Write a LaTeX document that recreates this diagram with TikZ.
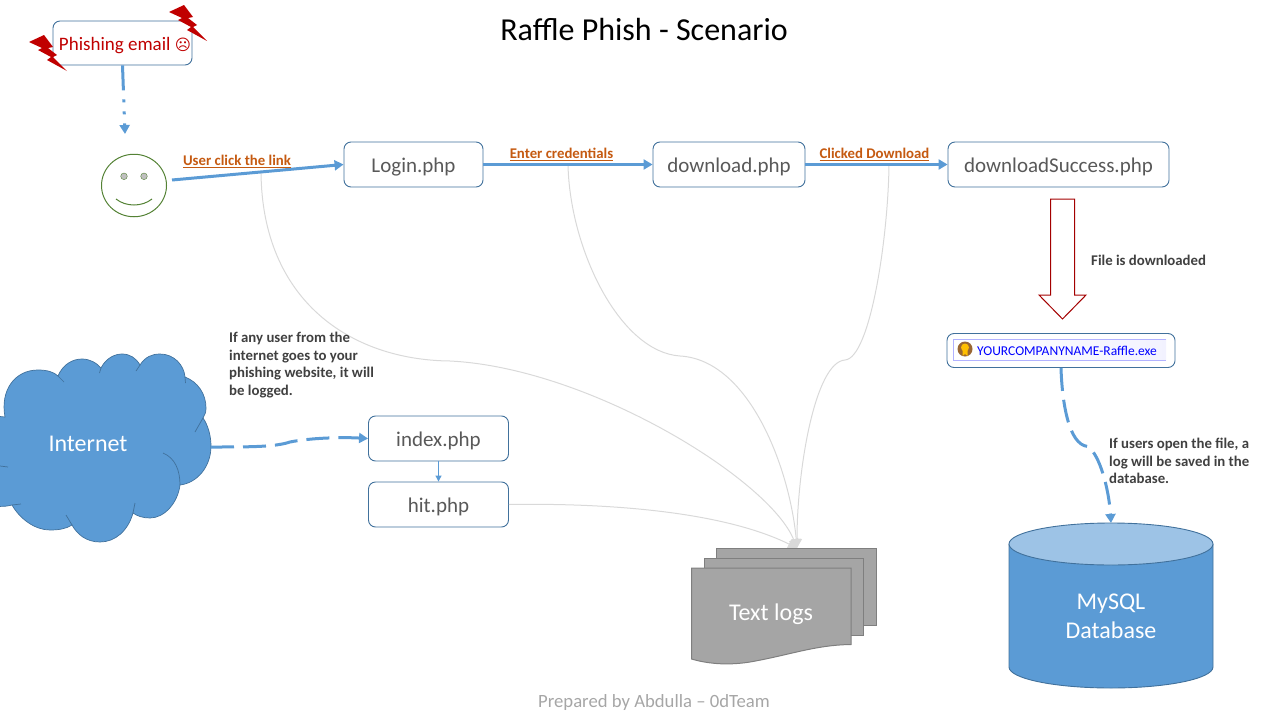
\documentclass[tikz,border=0pt]{standalone}
\usepackage{fontspec}
\usetikzlibrary{arrows.meta,shapes.geometric}
\setmainfont{Carlito}
\newfontfamily\symfont{DejaVu Sans}
\definecolor{boxline}{HTML}{41719C}
\definecolor{flowblue}{HTML}{5B9BD5}
\definecolor{dbtop}{HTML}{9DC3E6}
\definecolor{pagegray}{HTML}{595959}
\definecolor{labelorange}{HTML}{C55A11}
\definecolor{notegray}{HTML}{404040}
\definecolor{logfill}{HTML}{A5A5A5}
\definecolor{logline}{HTML}{7F7F7F}
\definecolor{bolt}{HTML}{C00000}
\definecolor{curvegray}{HTML}{D9D9D9}
\definecolor{facegreen}{HTML}{548235}
\tikzset{
  page/.style={draw=boxline, line width=.9pt, rounded corners=7pt, fill=white, text=pagegray, minimum height=45pt, inner xsep=0pt, text height=15pt, text depth=0pt, font=\fontsize{21}{25}\selectfont},
  flow/.style={->, flowblue, line width=3pt},
  loglink/.style={->, curvegray, line width=1pt},
  linktext/.style={text=labelorange, font=\fontsize{14.8}{18}\bfseries\selectfont},
  note/.style={text=notegray, align=left, anchor=west, inner sep=0pt, font=\fontsize{14.8}{17.8}\bfseries\selectfont},
  sheet/.style={fill=logfill, draw=logline, line width=1pt},
  onshape/.style={text=white, align=center, font=\fontsize{24}{29}\selectfont},
}
\begin{document}
\begin{tikzpicture}[x=1pt, y=-1pt, >={Triangle[length=9pt,width=10pt]}]
  \useasboundingbox (0,0) rectangle (1280,720);
  \node (title) at (644,30) {\fontsize{32}{38}\selectfont Raffle Phish - Scenario};
  \node[text=black!35] (footer) at (654,703) {\fontsize{18.7}{22}\selectfont Prepared by Abdulla -- 0dTeam};

  % logging curves
  \coordinate (logsin) at (797,548);
  \coordinate (clicklog) at (261,172);
  \coordinate (credlog) at (568,165);
  \coordinate (dllog) at (889,165);
  \draw[loglink] (clicklog) .. controls (262,300) and (350,360) .. (450,361) .. controls (590,368) and (770,480) .. (logsin);
  \draw[loglink] (credlog) .. controls (570,250) and (620,352) .. (680,356) .. controls (750,360) and (790,470) .. (logsin);
  \draw[loglink] (dllog) .. controls (888,240) and (870,358) .. (845,360) .. controls (815,362) and (797,470) .. (logsin);

  % email and user
  \node[page, minimum width=139pt, minimum height=44pt, text=bolt, font=\fontsize{19}{22}\selectfont] (email) at (122.5,43) {\hspace*{5pt}Phishing email {\symfont\fontsize{15.5}{18}\selectfont ☹}};
  \foreach \bx/\by in {0/0,140/-30}{
    \fill[bolt, shift={(\bx,\by)}] (29,42) -- (44,35) -- (53,47) -- (48,48) -- (57,55) -- (53,57) -- (67,71) -- (47,60) -- (51,57) -- (38,50) -- (42,48) -- cycle;
  }
  \node[ellipse, draw=facegreen, line width=1pt, minimum width=65pt, minimum height=62.5pt, inner sep=0pt] (user) at (134,185.5) {};
  \foreach \ex in {124,144}{
    \fill[black!25, draw=facegreen] (\ex,176.3) circle (3.3pt);
  }
  \draw[facegreen, line width=1pt] (116,199) .. controls (126,207) and (142,207) .. (152,199);

  % pages
  \node[page, minimum width=139pt] (login) at (413.5,164.5) {Login.php};
  \node[page, minimum width=152pt] (download) at (729,164.5) {download.php};
  \node[page, minimum width=221pt] (success) at (1058.5,164.5) {downloadSuccess.php};
  \node[page, minimum width=140pt] (index) at (438.5,438.5) {index.php};
  \node[page, minimum width=140pt] (hit) at (438.5,504.5) {hit.php};

  \coordinate (userin) at (125,134);
  \coordinate (userout) at (172,180);
  \draw[flow, dash pattern=on 25pt off 9pt on 3pt off 9pt on 3pt off 9pt on 20pt] (email.south) -- (userin);
  \draw[flow] (userout) -- (login.west);
  \draw[flow] (login.east) -- (download.west);
  \draw[flow] (download.east) -- (success.west);
  \node[linktext] (clicktext) at (237,161.5) {\underline{User click the link}};
  \node[linktext] (credtext) at (561.5,154.5) {\underline{Enter credentials}};
  \node[linktext] (dltext) at (874.5,154.5) {\underline{Clicked Download}};

  % download arrow and file
  \draw[bolt!85!black, fill=white, line width=1pt] (1050.5,199) -- (1074.5,199) -- (1074.5,295) -- (1086,295) -- (1062.5,319) -- (1039,295) -- (1050.5,295) -- cycle;
  \node[note] (filetext) at (1091,260.5) {File is downloaded};
  \node[page, minimum width=228pt, minimum height=34pt] (exe) at (1061,350.5) {};
  \shade[left color=white, right color=blue!5] (953.5,339.5) rectangle (1166,360.5);
  \draw[blue!30] (1166,339.5) -- (953.5,339.5) -- (953.5,360.5) -- (1166,360.5);
  \fill[brown!80!black] (965,349) circle (7.5pt);
  \fill[orange!50!yellow] (965,347.5) circle (4pt);
  \fill[orange!50!yellow] (962.5,350) -- (967.5,350) -- (967.5,356) -- (965,354) -- (962.5,356) -- cycle;
  \node[anchor=west, inner sep=0pt, text=blue, font=\fontsize{13.5}{16}\selectfont] (exetext) at (977,350.5) {YOURCOMPANYNAME-Raffle.exe};

  % database
  \coordinate (dbin) at (1111,523);
  \fill[flowblue] (1009,544) -- (1009,667) arc[start angle=180, end angle=360, x radius=102, y radius=-21] -- (1213,544) -- cycle;
  \draw[boxline, line width=.9pt] (1009,544) -- (1009,667) arc[start angle=180, end angle=360, x radius=102, y radius=-21] -- (1213,544);
  \draw[boxline, line width=.9pt, fill=dbtop] (1111,544) ellipse (102pt and 21pt);
  \node[onshape] (mysql) at (1111,616.5) {MySQL\\Database};
  \draw[flow, dash pattern=on 23pt off 9pt] (exe.south) .. controls (1062,400) and (1068,445) .. (1088,446.5) .. controls (1100,455) and (1109,490) .. (dbin);
  \node[note] (dbtext) at (1109,461) {If users open the file, a\\log will be saved in the\\database.};

  % internet
  \fill[flowblue, draw=boxline, line width=.7pt] (-5,416) -- (5,417) .. controls (0,390) and (15,370) .. (38,370) .. controls (47,370) and (54,372) .. (58,376)
    .. controls (63,364) and (73,359) .. (82,359) .. controls (90,359) and (97,363) .. (101,368)
    .. controls (106,358) and (115,354) .. (122,354) .. controls (130,354) and (136,358) .. (140,365)
    .. controls (145,357) and (152,354) .. (160,354) .. controls (174,354) and (184,365) .. (185,377)
    .. controls (198,382) and (206,394) .. (206,408) .. controls (206,412) and (205,415) .. (203,418)
    .. controls (208,425) and (211,436) .. (211,446) .. controls (211,467) and (197,483) .. (180,485)
    .. controls (178,502) and (165,518) .. (150,518) .. controls (143,518) and (137,516) .. (133,513)
    .. controls (128,531) and (115,542) .. (100,542) .. controls (86,542) and (77,534) .. (72,525)
    .. controls (66,529) and (58,530) .. (50,530) .. controls (35,530) and (20,519) .. (12,505)
    .. controls (8,506) and (3,507) .. (-5,506) -- cycle;
  \foreach \ax/\ay/\cx/\cy in {58/376/64/382,101/368/99.5/373,140/365/136/371,185/377/185.5/383,203/418/195/432,133/513/135/503,72/525/66/515,12/505/21/504,0/466/8/467}{
    \draw[boxline, line width=.7pt] (\ax,\ay) -- (\cx,\cy);
  }
  \draw[boxline, line width=.7pt] (163,453) .. controls (175,458) and (180,470) .. (180,485);
  \node[onshape] (internet) at (88,444) {Internet};
  \coordinate (cloudout) at (211,447);
  \draw[flow, dash pattern=on 23pt off 9pt] (cloudout) .. controls (250,447) and (275,447) .. (290,442) .. controls (310,438) and (340,437) .. (index.west);
  \node[note] (nettext) at (229,365) {If any user from the\\internet goes to your\\phishing website, it will\\be logged.};
  \draw[-{Triangle[length=6pt,width=6pt]}, flowblue, line width=1pt] (index.south) -- (hit.north);

  % text logs
  \draw[loglink] (hit.east) .. controls (600,503) and (720,510) .. (logsin);
  \draw[sheet] (716.5,548) rectangle (876.5,625.5);
  \draw[sheet] (704,558) rectangle (863,635.5);
  \draw[sheet] (691.5,568) -- (851,568) -- (851,644.5) .. controls (815,645) and (790,655) .. (750,662) .. controls (725,666) and (705,663) .. (691.5,659) -- cycle;
  \node[onshape] (logs) at (771,614) {Text logs};
\end{tikzpicture}
\end{document}
